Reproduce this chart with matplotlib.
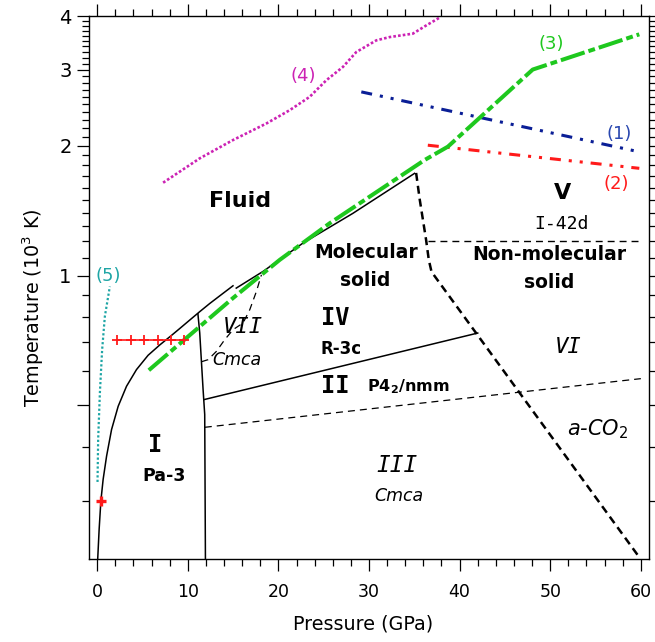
import matplotlib
matplotlib.use('Agg')
import matplotlib.pyplot as plt
from matplotlib.ticker import FixedLocator, FixedFormatter, NullFormatter

plt.rcParams['font.family'] = ['DejaVu Sans']

# ---------------- data (pressure in GPa, temperature in 10^3 K) -------------
melt_I_p = [0.0, 0.22, 0.41, 0.66, 1.04, 1.59, 2.32, 3.24, 4.34, 5.62,
            6.91, 8.20, 9.12, 10.22, 11.32, 12.42, 13.89, 14.99]
melt_I_T = [0.207, 0.258, 0.300, 0.3366, 0.3811, 0.4393, 0.4974, 0.5535,
            0.605, 0.6531, 0.6902, 0.7262, 0.7537, 0.7884, 0.8245, 0.8611,
            0.9092, 0.9467]

melt_IV_p = [15.35, 18.3, 22.71, 28.22, 35.03]
melt_IV_T = [0.935, 1.022, 1.189, 1.394, 1.726]

bound_I_III_p = [11.12, 11.32, 11.69, 11.87, 11.95]
bound_I_III_T = [0.815, 0.736, 0.544, 0.476, 0.215]

bound_IV_II_p = [11.8, 42.0]
bound_IV_II_T = [0.5155, 0.7355]

bound_II_III_p = [11.88, 60.0]
bound_II_III_T = [0.4446, 0.5765]

bound_VII_p = [11.51, 12.24, 13.16, 14.08, 15.0, 16.1, 16.84, 17.57, 18.13]
bound_VII_T = [0.631, 0.638, 0.667, 0.710, 0.749, 0.776, 0.833, 0.918, 1.004]

mol_nonmol_p = [35.2, 35.6, 36.3, 36.6, 36.9, 59.9]
mol_nonmol_T = [1.73, 1.50, 1.21, 1.087, 1.02, 0.221]

bound_V_VI_p = [36.5, 60.0]
bound_V_VI_T = [1.205, 1.205]

curve1_p = [29.15, 59.83]
curve1_T = [2.667, 1.936]

curve2_p = [36.49, 59.83]
curve2_T = [2.006, 1.773]

curve3_p = [5.70, 15.0, 20.14, 25.66, 30.07, 36.13, 38.7, 48.07, 59.83]
curve3_T = [0.603, 0.887, 1.087, 1.322, 1.524, 1.853, 1.99, 3.005, 3.627]

curve4_p = [7.28, 11.32, 14.99, 18.68, 21.25, 23.45, 25.29, 27.12, 28.6,
            30.81, 32.27, 34.84, 36.32, 37.78]
curve4_T = [1.642, 1.870, 2.062, 2.253, 2.419, 2.597, 2.838, 3.047, 3.300,
            3.512, 3.574, 3.640, 3.804, 3.964]

curve5_p = [0.04, 0.11, 0.30, 0.55, 0.85, 1.40]
curve5_T = [0.332, 0.4165, 0.534, 0.673, 0.804, 0.943]

cross_p = [2.14, 3.68, 5.18, 6.66, 8.13, 9.59]
cross_T = [0.709, 0.709, 0.709, 0.709, 0.709, 0.709]

point_p = [0.41]
point_T = [0.300]

x_major = [0, 10, 20, 30, 40, 50, 60]
x_minor = [v for v in range(0, 61, 2) if v % 10 != 0]
y_major = [0.5, 1, 2, 3, 4]
y_major_labels = ['', '1', '2', '3', '4']
y_minor = [0.3, 0.4, 0.6, 0.7, 0.8, 0.9] + [round(1 + 0.1 * i, 1) for i in range(1, 30) if i % 10 != 0]

GREEN = '#1ec81e'
RED = '#ff1a1a'
BLUE = '#0a1e96'
MAGENTA = '#cc22b4'
TEAL = '#1ea5a5'

# ---------------- figure ----------------
fig = plt.figure(figsize=(6.55, 6.42), dpi=100)
ax = fig.add_axes([89 / 655, 1 - 559 / 642, 560 / 655, 543 / 642])
ax.set_yscale('log')
ax.set_xlim(-0.9, 60.9)
ax.set_ylim(0.22, 4.0)

# black phase boundaries
ax.plot(melt_I_p, melt_I_T, color='black', lw=1.1)
ax.plot(melt_IV_p, melt_IV_T, color='black', lw=1.1)
ax.plot(bound_I_III_p, bound_I_III_T, color='black', lw=1.1)
ax.plot(bound_IV_II_p, bound_IV_II_T, color='black', lw=1.1)
ax.plot(bound_II_III_p, bound_II_III_T, color='black', lw=0.9, dashes=(5.6, 4))
ax.plot(bound_VII_p, bound_VII_T, color='black', lw=0.9, dashes=(5.6, 4))
ax.plot(bound_V_VI_p, bound_V_VI_T, color='black', lw=1.0, dashes=(5.0, 3.6))
ax.plot(mol_nonmol_p, mol_nonmol_T, color='black', lw=1.8, dashes=(3.2, 2.0))

# coloured literature curves
ax.plot(curve1_p, curve1_T, color=BLUE, lw=2.2, dashes=(3.6, 2.6, 1, 2.6, 1, 2.6),
        dash_capstyle='butt')
ax.plot(curve2_p, curve2_T, color=RED, lw=2.2, dashes=(3.6, 2.6, 1, 2.6, 1, 2.6),
        dash_capstyle='butt')
ax.plot(curve3_p, curve3_T, color=GREEN, lw=2.9, dashes=(6.2, 1.0, 1.7, 1.0),
        dash_capstyle='butt')
ax.plot(curve4_p, curve4_T, color=MAGENTA, lw=1.9, dashes=(1.0, 0.8),
        dash_capstyle='butt')
ax.plot(curve5_p, curve5_T, color=TEAL, lw=1.6, dashes=(1.0, 1.0),
        dash_capstyle='butt')

ax.plot(cross_p, cross_T, color=RED, lw=1.2, marker='+', ms=7, mew=1.3)
ax.plot(point_p, point_T, color=RED, ls='none', marker='+', ms=6.5, mew=2.4)

# ---------------- labels ----------------
def txt(x, y, s, **kw):
    ax.text(x, y, s, ha='center', va='center', **kw)

txt(15.75, 1.489, 'Fluid', fontsize=16, fontweight='bold')
txt(29.63, 1.128, 'Molecular', fontsize=13.5, fontweight='bold')
txt(29.63, 0.972, 'solid', fontsize=13.5, fontweight='bold')
txt(49.9, 1.117, 'Non-molecular', fontsize=13.5, fontweight='bold')
txt(49.9, 0.962, 'solid', fontsize=13.5, fontweight='bold')
txt(51.34, 1.554, 'V', fontsize=16, fontweight='bold')
txt(51.23, 1.317, 'I-42d', fontsize=13, family='DejaVu Sans Mono')
txt(26.32, 0.798, 'IV', fontsize=17, fontweight='bold', family='DejaVu Sans Mono')
txt(26.87, 0.6766, 'R-3c', fontsize=12, fontweight='bold')
txt(26.32, 0.5555, 'II', fontsize=17, fontweight='bold', family='DejaVu Sans Mono')
txt(34.3, 0.5526, 'P4$_{\\mathbf{2}}$/nmm', fontsize=11.5, fontweight='bold')
txt(6.36, 0.4034, 'I', fontsize=17, fontweight='bold', family='DejaVu Sans Mono')
txt(7.35, 0.342, 'Pa-3', fontsize=12.5, fontweight='bold')
txt(16.06, 0.7605, 'VII', fontsize=16, style='oblique', family='DejaVu Sans Mono')
txt(15.4, 0.638, 'Cmca', fontsize=12.5, style='italic')
txt(52.0, 0.684, 'VI', fontsize=16, style='oblique', family='DejaVu Sans Mono')
txt(55.2, 0.4392, 'a-CO$_{\\mathit{2}}$', fontsize=15, style='italic')
txt(33.04, 0.3626, 'III', fontsize=16.5, style='oblique', family='DejaVu Sans Mono')
txt(33.26, 0.3074, 'Cmca', fontsize=12.5, style='italic')

txt(57.63, 2.128, '(1)', fontsize=13, color='#2a48b0')
txt(57.3, 1.631, '(2)', fontsize=13, color=RED)
txt(50.13, 3.438, '(3)', fontsize=13, color=GREEN)
txt(22.79, 2.899, '(4)', fontsize=13, color=MAGENTA)
txt(1.18, 0.998, '(5)', fontsize=13, color=TEAL)

# ---------------- axes styling ----------------
ax.xaxis.set_major_locator(FixedLocator(x_major))
ax.xaxis.set_minor_locator(FixedLocator(x_minor))
ax.yaxis.set_major_locator(FixedLocator(y_major))
ax.yaxis.set_major_formatter(FixedFormatter(y_major_labels))
ax.yaxis.set_minor_locator(FixedLocator(y_minor))
ax.yaxis.set_minor_formatter(NullFormatter())

ax.tick_params(which='both', direction='out', top=True, right=True, width=0.9)
ax.tick_params(which='major', length=8.5)
ax.tick_params(which='minor', length=5)
ax.tick_params(axis='x', which='major', labelsize=12.5, pad=9)
ax.tick_params(axis='y', which='major', labelsize=14, pad=4)
for sp in ax.spines.values():
    sp.set_linewidth(1.0)

ax.set_xlabel('Pressure (GPa)', fontsize=13.8)
ax.set_ylabel('Temperature (10$^3$ K)', fontsize=13.8)
ax.xaxis.set_label_coords(0.49, -0.103)
ax.yaxis.set_label_coords(-0.077, 0.462)

fig.savefig('out.png', dpi=100)
